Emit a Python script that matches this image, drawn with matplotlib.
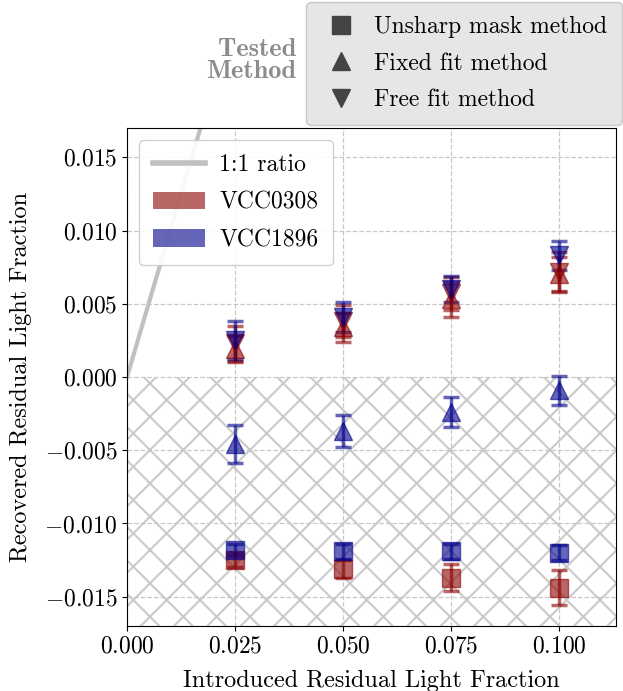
import numpy as np
import matplotlib
matplotlib.use("Agg")
import matplotlib.pyplot as plt
from matplotlib.lines import Line2D
from matplotlib.patches import Patch
from matplotlib.ticker import FuncFormatter

plt.rcParams['font.family'] = 'serif'
plt.rcParams['font.serif'] = ['cmr10']
plt.rcParams['mathtext.fontset'] = 'cm'
plt.rcParams['axes.formatter.use_mathtext'] = True
plt.rcParams['font.size'] = 17
plt.rcParams['hatch.linewidth'] = 1.5

# introduced residual light fractions
introduced = [0.025, 0.050, 0.075, 0.100]

# VCC0308 (red)
red_unsharp = [-0.0125, -0.0131, -0.0137, -0.0144]
red_unsharp_err = [0.0005, 0.0006, 0.0009, 0.0012]
red_fixed = [0.0019, 0.0034, 0.0053, 0.0070]
red_fixed_err = [0.0009, 0.0010, 0.0012, 0.0012]
red_free = [0.0023, 0.0038, 0.0057, 0.0072]
red_free_err = [0.0012, 0.0011, 0.0011, 0.0013]

# VCC1896 (blue)
blue_unsharp = [-0.0118, -0.0119, -0.0119, -0.0120]
blue_unsharp_err = [0.0004, 0.0005, 0.0005, 0.0005]
blue_fixed = [-0.0046, -0.0037, -0.0024, -0.0009]
blue_fixed_err = [0.0013, 0.0011, 0.0010, 0.0010]
blue_free = [0.0025, 0.0041, 0.0060, 0.0083]
blue_free_err = [0.0013, 0.0010, 0.0009, 0.0010]

xlim = (0.0, 0.1132)
ylim = (-0.017, 0.017)

fig = plt.figure(figsize=(6.23, 6.91), dpi=100)
ax = fig.add_axes([0.2039, 0.0941, 0.7849, 0.7207])

# hatched region of negative recovered light
ax.fill_between(xlim, ylim[0], 0, facecolor='none', edgecolor='#cacaca',
                hatch='x', linewidth=0, zorder=0)

# 1:1 line
ax.plot([0, 0.05], [0, 0.05], color='#c0c0c0', lw=3, zorder=1)

ax.grid(True, ls='--', color='#c8c8c8', lw=0.9, zorder=0.5)
ax.set_axisbelow(True)

kw = dict(linestyle='none', alpha=0.6, ms=13, capsize=6, elinewidth=2.5,
          capthick=2.5, zorder=3)
for col, uy, ue, fy, fe, gy, ge in [
        ('darkred', red_unsharp, red_unsharp_err, red_fixed, red_fixed_err, red_free, red_free_err),
        ('darkblue', blue_unsharp, blue_unsharp_err, blue_fixed, blue_fixed_err, blue_free, blue_free_err)]:
    ax.errorbar(introduced, uy, yerr=ue, marker='s', color=col, **kw)
    ax.errorbar(introduced, fy, yerr=fe, marker='^', color=col, **kw)
    ax.errorbar(introduced, gy, yerr=ge, marker='v', color=col, **kw)

ax.set_xlim(*xlim)
ax.set_ylim(*ylim)
ax.set_xticks([0.0, 0.025, 0.05, 0.075, 0.1])
ax.set_yticks([-0.015, -0.01, -0.005, 0.0, 0.005, 0.01, 0.015])
fmt = FuncFormatter(lambda v, p: '$%.3f$' % v)
ax.xaxis.set_major_formatter(fmt)
ax.yaxis.set_major_formatter(fmt)
ax.tick_params(labelsize=17)
ax.set_xlabel('Introduced Residual Light Fraction', fontsize=17.5, labelpad=8.5)
ax.set_ylabel('Recovered Residual Light Fraction', fontsize=17.5, labelpad=9)

h1 = [Line2D([], [], color='#c0c0c0', lw=4),
      Patch(facecolor='darkred', alpha=0.6),
      Patch(facecolor='darkblue', alpha=0.6)]
ax.legend(h1, ['1:1 ratio', 'VCC0308', 'VCC1896'], loc='upper left',
          bbox_to_anchor=(0.0245, 0.976), borderaxespad=0, fontsize=17,
          framealpha=0.9, edgecolor='#cccccc', handlelength=2.2,
          handleheight=0.77, labelspacing=0.65, borderpad=0.6,
          handletextpad=0.6)

h2 = [Line2D([], [], ls='none', marker=m, color='#444444', ms=13)
      for m in ['s', '^', 'v']]
fig.legend(h2, ['Unsharp mask method', 'Fixed fit method', 'Free fit method'],
           loc='upper right', bbox_to_anchor=(0.998, 0.997), borderaxespad=0,
           fontsize=17, facecolor='#e6e6e6', edgecolor='#c8c8c8',
           framealpha=1.0, handlelength=1.8, handletextpad=0.5,
           labelspacing=0.6, borderpad=0.6)
fig.text(0.476, 0.912, 'Tested\nMethod', ha='right', va='center',
         family='cmb10', fontsize=19, color='#8c8c8c', linespacing=0.95)

fig.savefig('out.png', dpi=100)
